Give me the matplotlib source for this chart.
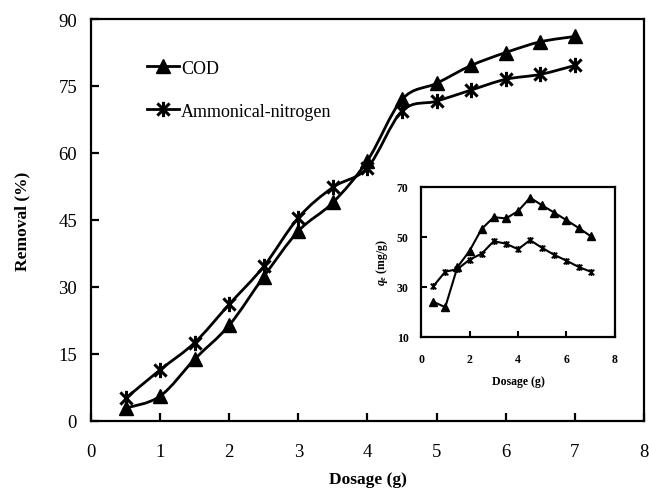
import numpy as np
import matplotlib
matplotlib.use("Agg")
import matplotlib.pyplot as plt
from matplotlib.path import Path
from matplotlib.patches import PathPatch

plt.rcParams['font.family'] = ['Liberation Serif', 'DejaVu Serif']
plt.rcParams['mathtext.fontset'] = 'custom'
plt.rcParams['mathtext.it'] = 'Liberation Serif:italic:bold'
plt.rcParams['mathtext.rm'] = 'Liberation Serif:bold'

# main chart: removal (%) vs dosage (g)
dosage = [0.5, 1.0, 1.5, 2.0, 2.5, 3.0, 3.5, 4.0, 4.5, 5.0, 5.5, 6.0, 6.5, 7.0]
cod_removal = [2.8, 5.5, 13.8, 21.4, 32.3, 42.5, 48.9, 58.3, 72.0, 75.6, 79.6, 82.5, 84.9, 86.1]
nh3_removal = [5.0, 11.4, 17.5, 26.1, 34.6, 45.5, 52.3, 56.7, 69.4, 71.6, 74.1, 76.5, 77.6, 79.6]

# inset: qe (mg/g) vs dosage (g)
cod_qe = [24.0, 21.8, 37.8, 44.3, 53.1, 57.8, 57.3, 60.2, 65.6, 62.5, 59.6, 56.6, 53.5, 50.2]
nh3_qe = [30.1, 36.0, 37.0, 40.8, 43.2, 48.2, 47.2, 45.0, 48.6, 45.5, 42.7, 40.4, 37.9, 36.0]

# excel-style star marker: an X plus a vertical bar
star = Path([(-1, -1), (1, 1), (-1, 1), (1, -1), (0, -1.25), (0, 1.25)],
            [Path.MOVETO, Path.LINETO, Path.MOVETO, Path.LINETO, Path.MOVETO, Path.LINETO])


def smooth_path(x, y):
    # bezier through the points, like excel's smoothed line
    pts = np.column_stack([x, y])
    n = len(pts)
    verts = [pts[0]]
    codes = [Path.MOVETO]
    for i in range(n - 1):
        p0 = pts[i - 1] if i > 0 else pts[i]
        p1 = pts[i]
        p2 = pts[i + 1]
        p3 = pts[i + 2] if i + 2 < n else pts[i + 1]
        c1 = p1 + (p2 - p0) / 6
        c2 = p2 - (p3 - p1) / 6
        verts += [c1, c2, p2]
        codes += [Path.CURVE4] * 3
    return Path(verts, codes)


fig = plt.figure(figsize=(6.49, 4.89), dpi=100)
ax = fig.add_axes([0.1402, 0.1376, 0.8521, 0.8214])

for yy in (cod_removal, nh3_removal):
    ax.add_patch(PathPatch(smooth_path(dosage, yy), fill=False, lw=2.0, color="black"))

ax.plot(dosage, cod_removal, ls="none", marker="^", ms=10, color="black")
ax.plot(dosage, nh3_removal, ls="none", marker=star, ms=11, mew=2.2, color="black")

ax.set_xlim(0, 8)
ax.set_ylim(0, 90)
ax.set_xticks(range(0, 9))
ax.set_yticks(range(0, 91, 15))
ax.tick_params(direction="in", length=6, width=1.6, labelsize=13.5)
ax.tick_params(axis="x", pad=16)
ax.tick_params(axis="y", pad=10)
for s in ax.spines.values():
    s.set_linewidth(1.6)
ax.set_xlabel("Dosage (g)", fontsize=12.5, fontweight="bold", labelpad=8)
ax.set_ylabel("Removal (%)", fontsize=12.5, fontweight="bold", labelpad=20)

h1 = ax.plot([], [], color="black", lw=2, marker="^", ms=10)[0]
h2 = ax.plot([], [], color="black", lw=2, marker=star, ms=11, mew=2.2)[0]
ax.legend([h1, h2], ["COD", "Ammonical-nitrogen"], loc="upper left", bbox_to_anchor=(0.088, 0.917),
          frameon=False, fontsize=13, handlelength=1.8, handletextpad=0.1, labelspacing=1.45,
          borderaxespad=0)

# inset
ins = fig.add_axes([0.6487, 0.3094, 0.2989, 0.3068])
ins.plot(dosage, cod_qe, color="black", lw=1.5, marker="^", ms=5.5)
ins.plot(dosage, nh3_qe, color="black", lw=1.5, marker=star, ms=5, mew=1.3)
ins.set_xlim(0, 8)
ins.set_ylim(10, 70)
ins.set_xticks(range(0, 9, 2))
ins.set_yticks(range(10, 71, 20))
ins.tick_params(direction="in", length=4, width=1.5, labelsize=8.5, pad=9)
ins.tick_params(axis="x", pad=12)
for lab in ins.get_xticklabels() + ins.get_yticklabels():
    lab.set_fontweight("bold")
for s in ins.spines.values():
    s.set_linewidth(1.6)
ins.set_xlabel("Dosage (g)", fontsize=8.5, fontweight="bold", labelpad=7)
ins.set_ylabel(r"$q_{\rm e}$ (mg/g)", fontsize=8.5, fontweight="bold", labelpad=5)

fig.savefig("out.png", dpi=100)
